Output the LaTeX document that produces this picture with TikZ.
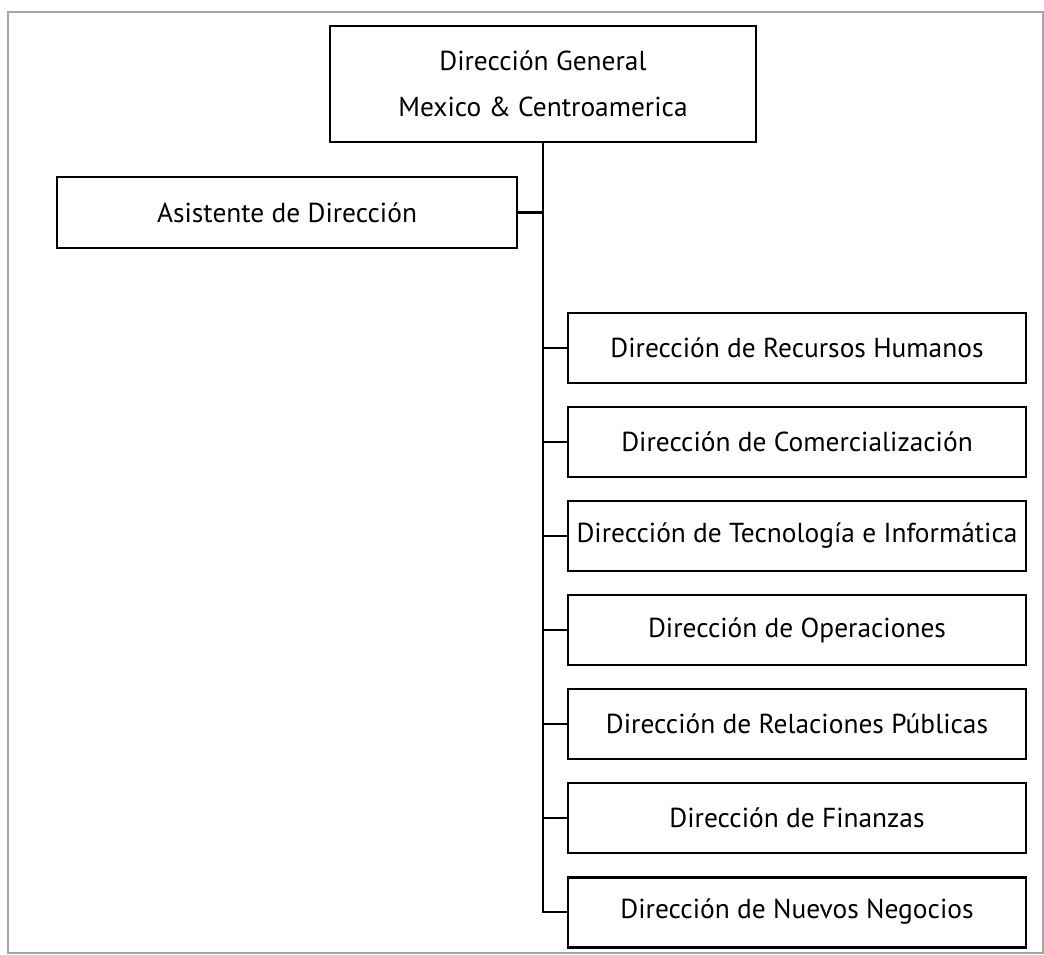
\documentclass[tikz,border=0pt]{standalone}
\usepackage{fontspec}
\setmainfont{PT Sans}
\usetikzlibrary{positioning}

\tikzset{
  puesto/.style={draw, line width=0.85pt, minimum width=4.58cm, minimum height=0.70cm,
    inner sep=0pt, align=center, font=\fontsize{7.8}{13}\selectfont},
  liga/.style={line width=0.65pt}
}

\begin{document}
\begin{tikzpicture}
    % parametros
    \def\tx{5.43} % eje vertical
    \def\dy{0.94} % separacion de las direcciones

    % marco
    \useasboundingbox (0,0) rectangle (10.44,-9.55);
    \draw[thin, gray!70] (0.08,-0.12) rectangle (10.43,-9.53);

    % direccion general y asistente
    \node[puesto, minimum width=4.26cm, minimum height=1.16cm] (dg) at (\tx,-0.84)
      {Dirección General\\Mexico \& Centroamerica};
    \node[puesto, minimum width=4.60cm, minimum height=0.71cm] (asist) at (2.87,-2.125)
      {Asistente de Dirección};

    % direcciones
    \foreach \nombre [count=\i] in {Dirección de Recursos Humanos,
        Dirección de Comercialización, Dirección de Tecnología e Informática,
        Dirección de Operaciones, Dirección de Relaciones Públicas,
        Dirección de Finanzas, Dirección de Nuevos Negocios} {
      \node[puesto] (dir\i) at (7.97,-3.48-\dy*\i+\dy) {\nombre};
    }

    % lineas
    \draw[liga] (dg.south) -- (dg.south |- dir7.west) -- (dir7.west);
    \draw[liga] (asist.east) -- (dg.south |- asist.east);
    \foreach \i in {1,...,6} {
      \draw[liga] (dg.south |- dir\i.west) -- (dir\i.west);
    }

  \end{tikzpicture}
\end{document}
